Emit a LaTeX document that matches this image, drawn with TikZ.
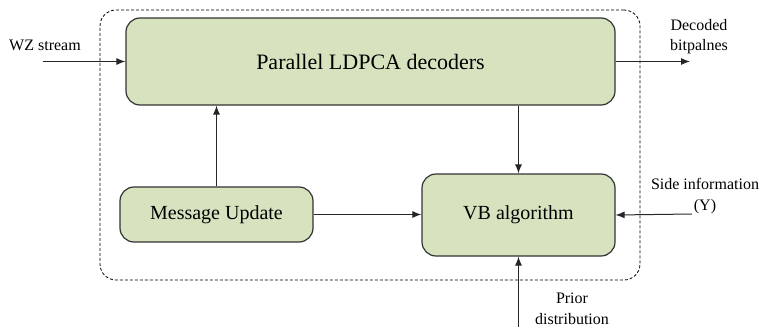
\documentclass[tikz,border=0pt]{standalone}
\usepackage{fontspec}
\setmainfont{Liberation Serif}
\usetikzlibrary{arrows.meta}
\definecolor{boxfill}{HTML}{D7E3BF}
\definecolor{boxline}{HTML}{333333}
\tikzset{
  blk/.style={draw=boxline, line width=1.2pt, fill=boxfill, rounded corners=14pt, align=center, inner sep=0pt},
  conn/.style={draw=black!85, line width=1pt, -{Latex[length=9pt,width=7pt]}},
  lbl/.style={font=\fontsize{16}{18}\selectfont, inner sep=0pt, align=center},
}
\begin{document}
\begin{tikzpicture}[x=1pt,y=-1pt]
\useasboundingbox (0,0) rectangle (764,327);
% dashed enclosure
\node[draw=black, dash pattern=on 3pt off 2pt, line width=0.8pt, rounded corners=16pt, minimum width=540pt, minimum height=270pt, inner sep=0pt] (encl) at (370,145) {};
% blocks
\node[blk, minimum width=489pt, minimum height=87pt, font=\fontsize{22}{26}\selectfont] (par) at (370.5,61.5) {Parallel LDPCA decoders};
\node[blk, minimum width=193pt, minimum height=55pt, font=\fontsize{20}{24}\selectfont] (msg) at (216.5,214.5) {Message Update};
\node[blk, minimum width=193pt, minimum height=82pt, font=\fontsize{20}{24}\selectfont] (vb) at (518.5,215) {VB algorithm};
% free ends
\coordinate (wzin) at (43,61.5);
\coordinate (decout) at (690,61.5);
\coordinate (sidein) at (692,214);
\coordinate (priorin) at (518.5,327);
% labels
\node[lbl] (wzl) at (45,45) {WZ stream};
\node[lbl] (decl1) at (699,25) {Decoded};
\node[lbl] (decl2) at (699,47) {bitpalnes};
\node[lbl] (sidel1) at (705,184) {Side information};
\node[lbl] (sidel2) at (705,207) {(Y)};
\node[lbl] (priorl1) at (572,298) {Prior};
\node[lbl] (priorl2) at (572,319) {distribution};
% connectors
\draw[conn] (wzin) -- (par.west);
\draw[conn] (par.east) -- (decout);
\draw[conn] (vb.north |- par.south) -- (vb.north);
\draw[conn] (msg.north) -- (msg.north |- par.south);
\draw[conn] (msg.east) -- (msg.east -| vb.west);
\draw[conn] (sidein) -- (vb.east);
\draw[conn] (priorin) -- (vb.south);
\end{tikzpicture}
\end{document}
